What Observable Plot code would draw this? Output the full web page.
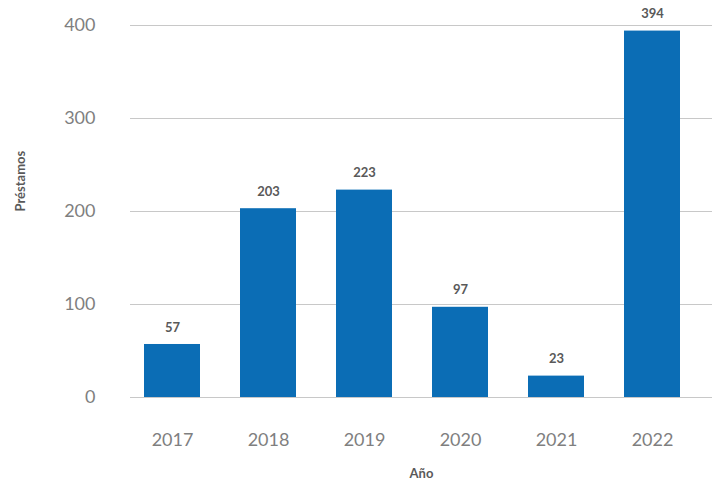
<!DOCTYPE html>
<html>
<head>
<meta charset="utf-8">
<script src="https://cdn.jsdelivr.net/npm/d3@7"></script>
<script src="https://cdn.jsdelivr.net/npm/@observablehq/plot@0.6"></script>
<style>
  html, body { margin: 0; padding: 0; background: #fff; }
  #chart svg { display: block; }
</style>
</head>
<body>
<div id="chart"></div>
<script>
const years = ["2017", "2018", "2019", "2020", "2021", "2022"];
const prestamos = [57, 203, 223, 97, 23, 394];
const yTicks = [0, 100, 200, 300, 400];
const xTitle = "Año";
const yTitle = "Préstamos";

const data = years.map((y, i) => ({ year: y, value: prestamos[i] }));

const chart = Plot.plot({
  width: 713,
  height: 484,
  marginTop: 25,
  marginBottom: 87,
  marginLeft: 130,
  marginRight: 1,
  style: { fontFamily: "Lato, sans-serif", background: "#fff" },
  x: { domain: years, range: [123, 700], paddingInner: 0.42, paddingOuter: 0.21, label: null },
  y: { domain: [0, 400], label: null },
  marks: [
    Plot.gridY(yTicks, { stroke: "#c8c8c8", strokeOpacity: 1, strokeWidth: 1 }),
    Plot.axisY(yTicks, { tickSize: 0, tickPadding: 35, fontSize: 18, fill: "#7f7f7f", label: null }),
    Plot.axisX({ tickSize: 0, tickPadding: 36, fontSize: 18, fill: "#7f7f7f", label: null }),
    Plot.barY(data, { x: "year", y: "value", fill: "#0b6db5" }),
    Plot.text(data, { x: "year", y: "value", text: d => String(d.value), dy: -17, fontSize: 13, fontWeight: "bold", fill: "#595959" }),
    Plot.text([xTitle], { frameAnchor: "bottom", dy: 80, fontSize: 13, fontWeight: "bold", fill: "#595959" }),
    Plot.text([yTitle], { frameAnchor: "left", dx: -110, rotate: -90, fontSize: 13, fontWeight: "bold", fill: "#595959" })
  ]
});
document.getElementById("chart").appendChild(chart);
</script>
</body>
</html>
